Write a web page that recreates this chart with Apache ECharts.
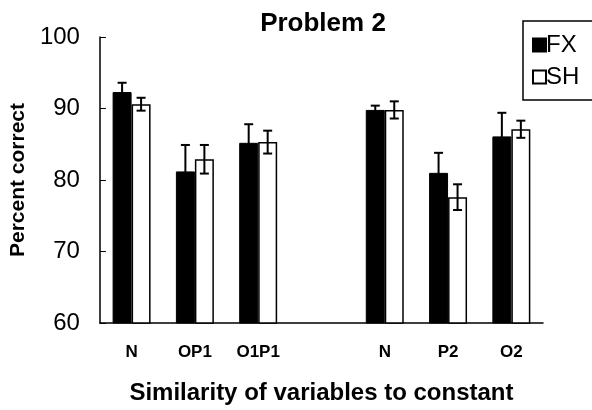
<!DOCTYPE html>
<html>
<head>
    <meta charset="utf-8">
    <title>Problem 2</title>
    <script src="https://cdn.jsdelivr.net/npm/echarts@6/dist/echarts.min.js"></script>
    <style>
        html, body { margin: 0; padding: 0; background: #fff; }
        #main { width: 592px; height: 410px; }
    </style>
</head>
<body>
<div id="main"></div>
<script>
    // 类别（中间空一格）
    var categories = ['N', 'OP1', 'O1P1', '', 'N', 'P2', 'O2'];
    var fxValues = [92.3, 81.2, 85.2, null, 89.8, 81.0, 86.1];
    var fxErrors = [1.3, 3.7, 2.6, null, 0.6, 2.8, 3.3];
    var shValues = [90.6, 82.9, 85.3, null, 89.8, 77.6, 87.1];
    var shErrors = [0.9, 2.0, 1.6, null, 1.2, 1.8, 1.2];
    var yTicks = [60, 70, 80, 90, 100];

    var font = 'Liberation Sans, Arial, sans-serif';
    var catGap = 0.4;

    function errData(vals, errs) {
        var out = [];
        for (var i = 0; i < vals.length; i++) {
            if (vals[i] == null) continue;
            out.push([i, vals[i] - errs[i], vals[i] + errs[i]]);
        }
        return out;
    }

    function errRender(side) {
        return function (params, api) {
            var idx = api.value(0);
            var lo = api.coord([idx, api.value(1)]);
            var hi = api.coord([idx, api.value(2)]);
            var band = api.size([1, 0])[0];
            var barW = band * (1 - catGap) / 2;
            var x = lo[0] + side * barW / 2;
            var cap = 4.5;
            var st = {stroke: '#000', lineWidth: 2};
            return {
                type: 'group',
                children: [
                    {type: 'line', shape: {x1: x, y1: lo[1], x2: x, y2: hi[1]}, style: st},
                    {type: 'line', shape: {x1: x - cap, y1: lo[1], x2: x + cap, y2: lo[1]}, style: st},
                    {type: 'line', shape: {x1: x - cap, y1: hi[1], x2: x + cap, y2: hi[1]}, style: st}
                ]
            };
        };
    }

    var myChart = echarts.init(document.getElementById('main'));
    myChart.setOption({
        animation: false,
        title: {
            text: 'Problem 2',
            left: 318,
            textAlign: 'center',
            top: 6,
            textStyle: {fontFamily: font, fontSize: 26, fontWeight: 'bold', color: '#000'}
        },
        legend: {
            orient: 'vertical',
            left: 523,
            top: 21,
            data: ['FX', 'SH'],
            icon: 'rect',
            itemWidth: 13,
            itemHeight: 13,
            itemGap: 8,
            padding: [12, 20, 11, 9],
            borderColor: '#000',
            borderWidth: 1.5,
            borderRadius: 0,
            textStyle: {fontFamily: font, fontSize: 24, color: '#000', padding: [0, 0, 0, -5]}
        },
        grid: {left: 99, right: 49, top: 37, bottom: 82},
        xAxis: {
            type: 'category',
            data: categories,
            name: 'Similarity of variables to constant',
            nameLocation: 'middle',
            nameGap: 58,
            nameTextStyle: {fontFamily: font, fontSize: 24, fontWeight: 'bold', color: '#000'},
            axisLine: {lineStyle: {color: '#000', width: 1.5}},
            axisTick: {show: false},
            axisLabel: {fontFamily: font, fontSize: 17, fontWeight: 'bold', color: '#000', margin: 21}
        },
        yAxis: {
            type: 'value',
            min: yTicks[0],
            max: yTicks[yTicks.length - 1],
            interval: 10,
            name: 'Percent correct',
            nameLocation: 'middle',
            nameGap: 70,
            nameTextStyle: {fontFamily: font, fontSize: 21, fontWeight: 'bold', color: '#000'},
            axisLine: {show: true, lineStyle: {color: '#000', width: 1.5}},
            axisTick: {show: true, inside: true, length: 6, lineStyle: {color: '#000'}},
            splitLine: {show: false},
            axisLabel: {fontFamily: font, fontSize: 24, color: '#000', margin: 20}
        },
        series: [
            {
                name: 'FX',
                type: 'bar',
                data: fxValues,
                barGap: 0,
                barCategoryGap: '40%',
                itemStyle: {color: '#000', borderColor: '#000', borderWidth: 1}
            },
            {
                name: 'SH',
                type: 'bar',
                data: shValues,
                barGap: 0,
                barCategoryGap: '40%',
                itemStyle: {color: '#fff', borderColor: '#000', borderWidth: 1.5}
            },
            {
                type: 'custom',
                renderItem: errRender(-1),
                data: errData(fxValues, fxErrors),
                encode: {x: 0, y: [1, 2]},
                z: 5
            },
            {
                type: 'custom',
                renderItem: errRender(1),
                data: errData(shValues, shErrors),
                encode: {x: 0, y: [1, 2]},
                z: 5
            }
        ]
    });
</script>
</body>
</html>
